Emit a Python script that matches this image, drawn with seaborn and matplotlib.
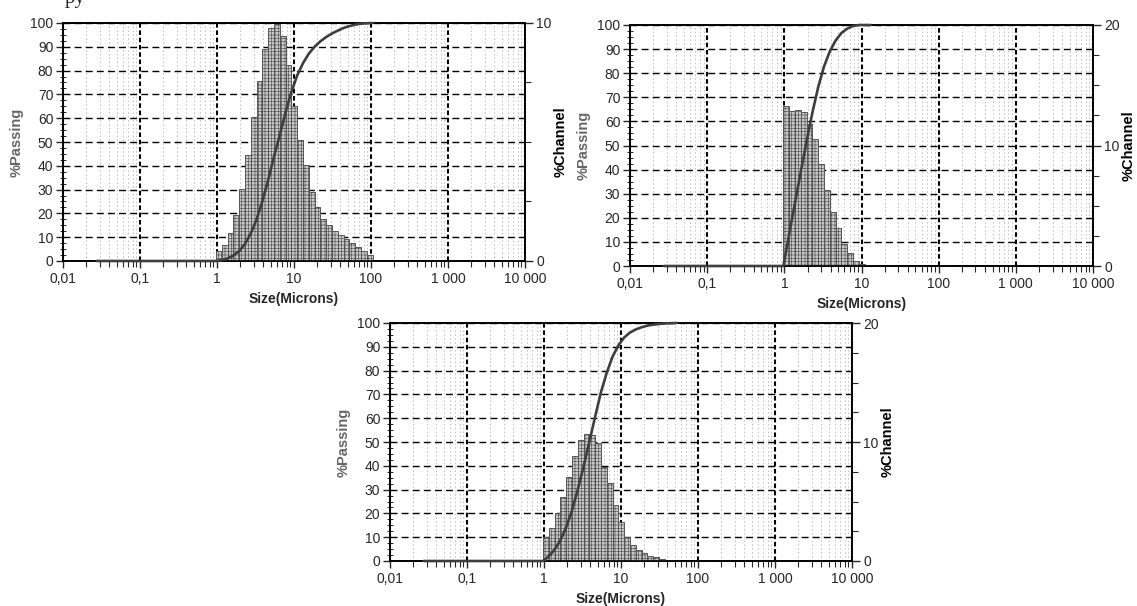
import matplotlib
matplotlib.use("Agg")
from matplotlib import pyplot as plt
from matplotlib import ticker
import numpy as np
import pandas as pd
import seaborn as sns

# Microtrac channel edges (microns)
edges = [0.972, 1.156, 1.375, 1.635, 1.945, 2.312, 2.750, 3.270, 3.889, 4.625,
         5.500, 6.541, 7.778, 9.250, 11.00, 13.08, 15.56, 18.50, 22.00, 26.16,
         31.11, 37.00, 44.00, 52.33, 62.23, 74.00, 88.00, 104.7]

# % channel (right axis)
chan_a = [0.42, 0.69, 1.16, 1.92, 3.01, 4.44, 6.03, 7.56, 8.92, 9.80, 9.94, 9.44,
          8.22, 6.50, 5.07, 4.02, 2.90, 2.27, 1.78, 1.50, 1.25, 1.08, 0.91, 0.76,
          0.59, 0.41, 0.24]
chan_b = [13.26, 12.90, 12.94, 12.80, 11.80, 10.58, 8.48, 6.34, 4.50, 3.12, 1.82,
          1.04, 0.44, 0.16, 0.06]
chan_c = [2.04, 2.80, 4.00, 5.40, 7.08, 8.82, 10.16, 10.68, 10.58, 9.94, 7.92, 6.52,
          4.70, 3.30, 2.04, 1.34, 0.92, 0.64, 0.44, 0.30, 0.20, 0.12, 0.06]

# % passing (left axis), read at the channel upper edges
start_size = 0.0275
pass_a = [0.4, 1.1, 2.3, 4.2, 7.2, 11.6, 17.6, 25.2, 34.1, 43.9, 53.0, 62.5, 71.0,
          78.0, 83.1, 87.1, 90.0, 92.3, 94.1, 95.6, 96.8, 97.9, 98.7, 99.3, 99.7,
          99.9, 100.0]
pass_b = [13.3, 26.2, 39.1, 51.9, 63.7, 74.3, 82.8, 89.1, 93.6, 96.7, 98.5, 99.6,
          100.0, 100.0, 100.0]
pass_c = [2.0, 4.8, 8.8, 14.2, 21.3, 30.1, 39.8, 50.2, 60.8, 71.0, 79.2, 85.9,
          90.6, 93.9, 96.0, 97.3, 98.2, 98.9, 99.3, 99.6, 99.8, 99.9, 100.0]

xtick_vals = [0.01, 0.1, 1, 10, 100, 1000, 10000]
xtick_labels = ["0,01", "0,1", "1", "10", "100", "1 000", "10 000"]

sns.set_style("ticks")
plt.rcParams["font.family"] = ["Liberation Sans", "DejaVu Sans"]
plt.rcParams["hatch.linewidth"] = 0.45


def panel(fig, rect, chan, passing, chan_max):
    n = len(chan)
    e = np.array(edges[:n + 1])
    df = pd.DataFrame({"size": np.sqrt(e[:-1] * e[1:]), "pct": chan})

    ax = fig.add_axes(rect)
    ax.set_xscale("log")
    ax.set_xlim(0.01, 10000)
    ax.set_ylim(0, 100)

    ax_ch = ax.twinx()
    sns.histplot(data=df, x="size", weights="pct", bins=[float(v) for v in np.log10(e)],
                 ax=ax_ch, stat="count", alpha=1, facecolor="#c8c8c8",
                 edgecolor="#555555", linewidth=0.7, hatch="+++++")
    for p in ax_ch.patches:
        if hasattr(p, "set_hatchcolor"):
            p.set_hatchcolor("#929292")
    ax_ch.set_ylim(0, chan_max)
    ax_ch.set_xlim(0.01, 10000)

    ax_cv = ax.twinx()
    curve_x = [start_size] + list(e)
    curve_y = [0, 0] + passing
    sns.lineplot(x=curve_x, y=curve_y, ax=ax_cv, color="#3e3e3e", linewidth=1.9,
                 clip_on=False)
    ax_cv.set_ylim(0, 100)
    ax_cv.set_xlim(0.01, 10000)
    ax_cv.axis("off")

    # x axis
    ax.xaxis.set_major_locator(ticker.FixedLocator(xtick_vals))
    ax.xaxis.set_major_formatter(ticker.FixedFormatter(xtick_labels))
    ax.xaxis.set_minor_locator(ticker.LogLocator(base=10, subs=np.arange(2, 10), numticks=20))
    ax.xaxis.set_minor_formatter(ticker.NullFormatter())
    ax.tick_params(axis="x", which="major", direction="out", length=5, width=1.0,
                   labelsize=10, pad=3, bottom=True, top=False)
    ax.tick_params(axis="x", which="minor", direction="out", length=4, width=0.8,
                   bottom=True, top=False)

    # left axis
    ax.yaxis.set_major_locator(ticker.MultipleLocator(10))
    ax.yaxis.set_minor_locator(ticker.MultipleLocator(2.5))
    ax.tick_params(axis="y", which="major", direction="out", length=5, width=1.0,
                   labelsize=10, pad=2, left=True, right=False)
    ax.tick_params(axis="y", which="minor", direction="inout", length=4, width=0.7,
                   left=True, right=False)

    # right axis
    ax_ch.yaxis.set_major_locator(ticker.MultipleLocator(10))
    ax_ch.yaxis.set_minor_locator(ticker.MultipleLocator(2.5))
    ax_ch.tick_params(axis="y", which="major", direction="out", length=6, width=1.0,
                      labelsize=10, pad=2, right=True, left=False)
    ax_ch.tick_params(axis="y", which="minor", direction="out", length=4, width=0.8,
                      right=True, left=False)

    # grid
    ax.grid(which="minor", axis="x", color="#bdbdbd", linestyle=(0, (1.5, 2.5)),
            linewidth=0.7)
    ax.grid(which="major", axis="x", color="black", linestyle=(0, (2.2, 1.3)),
            linewidth=1.5)
    ax.grid(which="major", axis="y", color="black", linestyle=(0, (5, 3)),
            linewidth=1.0)

    for a in (ax, ax_ch):
        for s in a.spines.values():
            s.set_visible(True)
            s.set_color("black")
            s.set_linewidth(1.2)

    ax.set_xlabel("Size(Microns)", fontsize=10, fontweight="bold")
    ax.xaxis.set_label_coords(0.5, -0.13)
    ax.set_ylabel("%Passing", fontsize=10.5, fontweight="bold", color="#666666")
    ax.yaxis.set_label_coords(-0.085, 0.5)
    ax_ch.set_ylabel("%Channel", fontsize=10.5, fontweight="bold", color="black")
    ax_ch.yaxis.set_label_coords(1.062, 0.5)
    return ax


W, H = 1137, 606
fig = plt.figure(figsize=(W / 100, H / 100), dpi=100)
fig.patch.set_facecolor("white")


def rect(x0, y0, x1, y1):
    return [x0 / W, 1 - y1 / H, (x1 - x0) / W, (y1 - y0) / H]


panel(fig, rect(63, 23, 525, 261), chan_a, pass_a, 10)
panel(fig, rect(630, 25, 1093, 266), chan_b, pass_b, 20)
panel(fig, rect(390, 323, 852, 561), chan_c, pass_c, 20)

# fragment of the surrounding document text, cut by the top edge as in the scan
fig.text(65 / W, 1 - 3 / H, "py", fontsize=15, family=["Liberation Serif", "DejaVu Serif"],
         va="baseline", ha="left")

fig.savefig("out.png", dpi=100)
